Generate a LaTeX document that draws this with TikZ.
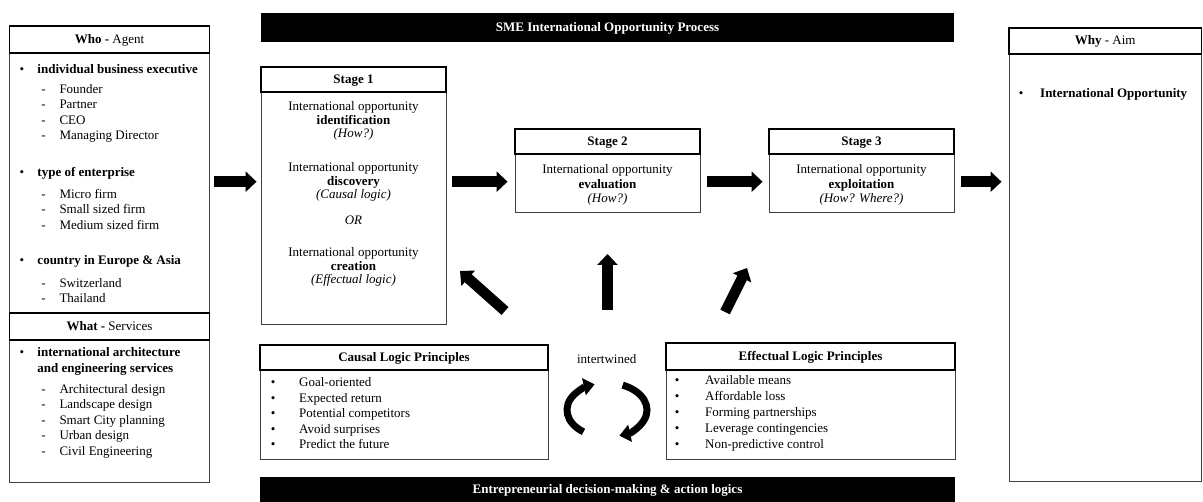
\documentclass[tikz,border=0pt]{standalone}
\usepackage{fontspec}
\setmainfont{Liberation Serif}
\usetikzlibrary{arrows.meta}
\begin{document}
\fontsize{13}{15.5}\selectfont
\begin{tikzpicture}[x=1pt,y=-1pt,
  txt/.style={inner sep=0pt, text height=8.5pt, text depth=0.5pt},
  body/.style={draw=black!75, line width=0.9pt, fill=white, inner sep=0pt},
  head/.style={draw=black, line width=1.6pt, fill=white, inner sep=0pt, text height=8.5pt, text depth=0.5pt},
  bar/.style={fill=black, inner sep=0pt, text=white, font=\bfseries, text height=8.5pt, text depth=0.5pt},
  blk/.style={line width=10.5pt, -{Triangle[width=20pt,length=11pt]}},
  loop/.style={line width=7pt, -{Triangle[width=17pt,length=11pt]}},
]
\useasboundingbox (0,0) rectangle (1203,502);
\clip (0,0) rectangle (1203,502);

% ---------- left column: agent and services ----------
\node[body, minimum width=200pt, minimum height=456pt] (agent) at (109.5,254) {};
\node[head, minimum width=200pt, minimum height=27pt] (whohead) at (109.5,39.5) {\textbf{Who -} Agent};
\node[head, minimum width=200pt, minimum height=27pt] (whathead) at (109.5,326.5) {\textbf{What -} Services};

\foreach \yy/\lbl [count=\i] in {69.3/individual business executive, 172.7/type of enterprise,
    261/country in Europe \& Asia, 352.7/international architecture} {
  \node[txt, anchor=west] (abul\i) at (19.4,\yy) {\textbullet};
  \node[txt, anchor=west, font=\bfseries] (ahead\i) at (37.3,\yy) {\lbl};
}
\node[txt, anchor=west, font=\bfseries] (ahead5) at (37.3,369) {and engineering services};

\foreach \yy/\lbl [count=\i] in {89.3/Founder, 104.8/Partner, 120.3/CEO, 135.8/Managing Director,
    194.3/Micro firm, 209.8/Small sized firm, 225.3/Medium sized firm,
    283.3/Switzerland, 298.8/Thailand,
    389.3/Architectural design, 404.8/Landscape design, 420.3/Smart City planning,
    435.8/Urban design, 451.3/Civil Engineering} {
  \node[txt, anchor=west] (adash\i) at (41.2,\yy) {-};
  \node[txt, anchor=west] (aitem\i) at (59.3,\yy) {\lbl};
}

% ---------- process bar and stages ----------
\node[bar, minimum width=693pt, minimum height=29pt] (procbar) at (607.5,27.5) {SME International Opportunity Process};

\node[body, minimum width=185pt, minimum height=257pt] (stage1) at (353.5,195.5) {};
\node[head, minimum width=185pt, minimum height=25pt, font=\bfseries] (s1head) at (353.5,79.5) {Stage 1};
\node[txt] (s1a) at (353.5,107) {International opportunity};
\node[txt, font=\bfseries] (s1b) at (353.5,120.3) {identification};
\node[txt, font=\itshape] (s1c) at (353.5,133.6) {(How?)};
\node[txt] (s1d) at (353.5,168) {International opportunity};
\node[txt, font=\bfseries] (s1e) at (353.5,181.5) {discovery};
\node[txt, font=\itshape] (s1f) at (353.5,195) {(Causal logic)};
\node[txt, font=\itshape] (s1g) at (353.5,221) {OR};
\node[txt] (s1h) at (353.5,253) {International opportunity};
\node[txt, font=\bfseries] (s1i) at (353.5,266.5) {creation};
\node[txt, font=\itshape] (s1j) at (353.5,280) {(Effectual logic)};

\node[body, minimum width=185pt, minimum height=83pt] (stage2) at (607.5,170.5) {};
\node[head, minimum width=185pt, minimum height=25pt, font=\bfseries] (s2head) at (607.5,141.5) {Stage 2};
\node[txt] (s2a) at (607.5,170) {International opportunity};
\node[txt, font=\bfseries] (s2b) at (607.5,184.2) {evaluation};
\node[txt, font=\itshape] (s2c) at (607.5,198.3) {(How?)};

\node[body, minimum width=185pt, minimum height=83pt] (stage3) at (861.5,170.5) {};
\node[head, minimum width=185pt, minimum height=25pt, font=\bfseries] (s3head) at (861.5,141.5) {Stage 3};
\node[txt] (s3a) at (861.5,170) {International opportunity};
\node[txt, font=\bfseries] (s3b) at (861.5,184.2) {exploitation};
\node[txt, font=\itshape] (s3c) at (861.5,198.3) {(How? Where?)};

% ---------- right column: aim ----------
\node[body, minimum width=192.5pt, minimum height=453pt] (aim) at (1105.25,254.5) {};
\node[head, minimum width=192.5pt, minimum height=26pt] (whyhead) at (1105.25,41) {\textbf{Why} - Aim};
\node[txt, anchor=west] (aimbul) at (1018.7,94) {\textbullet};
\node[txt, anchor=west, font=\bfseries] (aimtext) at (1040,94) {International Opportunity};

% ---------- decision-making logics ----------
\node[body, minimum width=288pt, minimum height=114pt] (causal) at (404,402) {};
\node[head, minimum width=288pt, minimum height=25pt, font=\bfseries] (causalhead) at (404,357.5) {Causal Logic Principles};
\foreach \yy/\lbl [count=\i] in {383/Goal-oriented, 398.5/Expected return, 414/Potential competitors,
    429.5/Avoid surprises, 445/Predict the future} {
  \node[txt, anchor=west] (cbul\i) at (270.7,\yy) {\textbullet};
  \node[txt, anchor=west] (citem\i) at (299,\yy) {\lbl};
}

\node[body, minimum width=289pt, minimum height=116pt] (effect) at (810.5,401) {};
\node[head, minimum width=289pt, minimum height=27pt, font=\bfseries] (effecthead) at (810.5,356.5) {Effectual Logic Principles};
\foreach \yy/\lbl [count=\i] in {381/Available means, 397/Affordable loss, 413/Forming partnerships,
    429/Leverage contingencies, 445/Non-predictive control} {
  \node[txt, anchor=west] (ebul\i) at (674.7,\yy) {\textbullet};
  \node[txt, anchor=west] (eitem\i) at (705,\yy) {\lbl};
}

\node[txt] (intw) at (606.7,360) {intertwined};

\node[bar, minimum width=695pt, minimum height=25pt] (logicbar) at (607.5,489.5) {Entrepreneurial decision-making \& action logics};

% ---------- block arrows ----------
\coordinate (row) at (0,181.7);
\draw[blk, shorten <=4.5pt, shorten >=4pt] (agent.east |- row) -- (stage1.west |- row);
\draw[blk, shorten <=6pt, shorten >=7pt] (stage1.east |- row) -- (stage2.west |- row);
\draw[blk, shorten <=7pt, shorten >=6pt] (stage2.east |- row) -- (stage3.west |- row);
\draw[blk, shorten <=7pt, shorten >=7pt] (stage3.east |- row) -- (aim.west |- row);

\coordinate (upfoot) at (607.5,310);
\coordinate (uptip) at (607.5,254);
\coordinate (nwfoot) at (505,311);
\coordinate (nwtip) at (460,271);
\coordinate (nefoot) at (725,312);
\coordinate (netip) at (747,268);
\draw[blk] (upfoot) -- (uptip);
\draw[blk] (nwfoot) -- (nwtip);
\draw[blk] (nefoot) -- (netip);

% ---------- intertwined cycle ----------
\coordinate (loopc) at (607,410);
\draw[loop] (loopc) ++({40*cos(126)},{27*sin(126)})
  arc[start angle=126, end angle=252, x radius=40, y radius=27];
\draw[loop] (loopc) ++({40*cos(293)},{27*sin(293)})
  arc[start angle=293, end angle=432, x radius=40, y radius=27];
\end{tikzpicture}
\end{document}
